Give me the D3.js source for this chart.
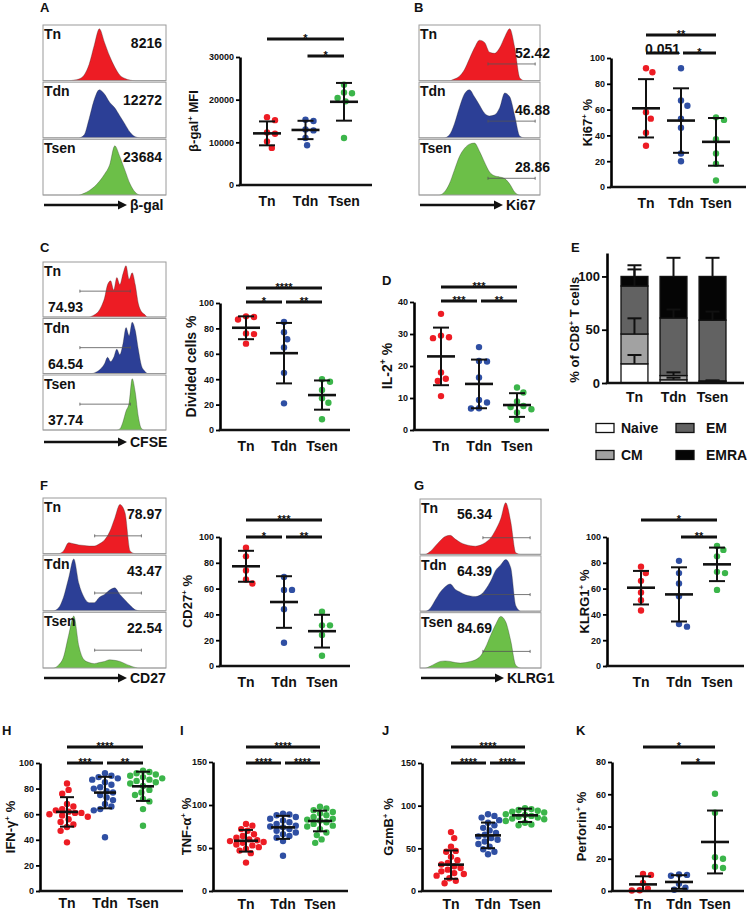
<!DOCTYPE html>
<html>
<head>
<meta charset="utf-8">
<script src="https://cdn.jsdelivr.net/npm/d3@7"></script>
<style>
  body { margin: 0; background: #fff; }
  svg { display: block; }
  text { font-family: "Liberation Sans", Arial, sans-serif; font-weight: bold; fill: #111; }
</style>
</head>
<body>
<div id="fig"></div>
<script>
const groups = ["Tn", "Tdn", "Tsen"]

// ---- A: beta-gal ----
const galHistTn = [0,0,0,0,0,0,.01,.03,.1,.3,.65,.95,.7,.45,.25,.1,.04,.01,0,0,0,0,0,0,0]
const galHistTdn = [0,0,0,0,0,0,0,0,.05,.35,.7,.88,.8,.65,.55,.4,.25,.1,.02,0,0,0,0,0,0]
const galHistTsen = [0,0,0,0,0,0,0,0,.03,.08,.15,.25,.38,.55,.9,.7,.45,.2,.05,0,0,0,0,0,0]
const galMfiLabels = ["8216", "12272", "23684"]
const galTn = [15900, 15200, 12300, 12000, 10200, 8700]
const galTdn = [15300, 15000, 13000, 12800, 11000, 9300]
const galTsen = [23500, 21700, 21500, 20400, 19600, 11000]
const galMean = [12100, 12900, 19500]
const galSd = [2800, 2150, 4420]

// ---- B: Ki67 ----
const ki67HistTn = [0,0,0,0,0,0,0,.03,.08,.2,.4,.6,.74,.7,.52,.5,.6,.8,.95,.6,.05,0,0,0,0]
const ki67HistTdn = [0,0,0,0,0,0,.05,.25,.55,.8,.88,.75,.6,.45,.4,.42,.55,.82,.75,.4,.03,0,0,0,0]
const ki67HistTsen = [0,0,0,0,0,.05,.2,.45,.7,.85,.93,.95,.8,.6,.42,.35,.33,.3,.2,.05,0,0,0,0,0]
const ki67Labels = ["52.42", "46.88", "28.86"]
const ki67Tn = [92, 89, 58, 53, 42, 32]
const ki67Tdn = [92, 67, 63, 53, 46, 26, 20]
const ki67Tsen = [54, 52, 37, 26, 18, 5]
const ki67Mean = [61, 51.5, 35]
const ki67Sd = [22.6, 25, 18.5]

// ---- C: CFSE ----
const cfseHistTn = [0,0,0,0,0,0,0,0,0,0,0,0,0,0,0,0,.02,.05,.1,.2,.35,.6,.67,.5,.73,.6,.8,.95,.7,.82,.6,.25,.1,.05,0,0,0,0,0,0,0]
const cfseHistTdn = [0,0,0,0,0,0,0,0,0,0,0,0,0,0,0,0,0,.02,.05,.1,.18,.3,.22,.3,.45,.35,.55,.85,.7,.95,.8,.45,.15,.05,0,0,0,0,0,0,0]
const cfseHistTsen = [0,0,0,0,0,0,0,0,0,0,0,0,0,0,0,0,0,0,0,0,0,0,0,0,0,.02,.15,.35,.5,.95,.7,.25,.03,0,0,0,0,0,0,0,0]
const cfseLabels = ["74.93", "64.54", "37.74"]
const cfseTn = [89.5, 89, 87, 76, 75.5, 68]
const cfseTdn = [85, 77, 71.5, 65, 45, 21]
const cfseTsen = [40, 38, 31.5, 25, 21.5, 8.5]
const cfseMean = [80.5, 60.5, 27.5]
const cfseSd = [9, 23.8, 11.5]

// ---- D: IL-2 ----
const il2Tn = [36.3, 29.5, 29, 28.7, 18, 16, 15.3, 10.6]
const il2Tdn = [25.9, 21.6, 21.4, 16.4, 9.4, 8.6, 6.8, 6.7]
const il2Tsen = [13.3, 11.7, 8.9, 7.5, 7.2, 6.5, 5.5, 3.2]
const il2Mean = [23, 14.4, 7.8]
const il2Sd = [9, 7.6, 3.7]

// ---- E: subsets ----
const subsetNames = ["Naive", "CM", "EM", "EMRA"]
const naivePct = [18, 3, 1]
const cmPct = [28, 4, 1]
const emPct = [45, 54, 57]
const emraPct = [9, 39, 41]
const naiveSd = [8.3, 2, 0.5]
const cmSd = [14.7, 3, 0.5]
const emSd = [15.6, 8, 8]
const emraSd = [10.5, 17.5, 17.5]

// ---- F: CD27 ----
const cd27HistTn = [0,0,0,0,.05,.2,.18,.16,.15,.14,.14,.18,.25,.4,.65,.9,.75,.05,0,0,0,0,0,0,0]
const cd27HistTdn = [0,0,0,.05,.25,.6,.95,.5,.25,.15,.15,.25,.3,.38,.42,.3,.2,.1,.02,0,0,0,0,0,0]
const cd27HistTsen = [0,0,0,.05,.2,.6,.95,.4,.15,.1,.08,.1,.12,.15,.14,.12,.08,.04,.01,0,0,0,0,0,0]
const cd27Labels = ["78.97", "43.47", "22.54"]
const cd27Tn = [91.7, 85, 74, 67, 64]
const cd27Tdn = [69, 59, 59, 44, 18]
const cd27Tsen = [42, 31.5, 31.5, 24, 8]
const cd27Mean = [77.3, 49.6, 27]
const cd27Sd = [12, 20, 12.7]

// ---- G: KLRG1 ----
const klrgHistTn = [0,0,.05,.15,.25,.33,.35,.28,.22,.18,.16,.15,.17,.22,.3,.45,.65,.95,.6,.03,0,0,0,0,0]
const klrgHistTdn = [0,0,.05,.2,.35,.45,.5,.4,.35,.3,.28,.27,.3,.4,.55,.75,.85,.95,.8,.1,0,0,0,0,0]
const klrgHistTsen = [0,0,.03,.08,.12,.13,.12,.1,.09,.1,.12,.15,.22,.38,.6,.8,.95,.85,.5,.05,0,0,0,0,0]
const klrgLabels = ["56.34", "64.39", "84.69"]
const klrgTn = [77, 72, 66, 57, 51, 43]
const klrgTdn = [81.5, 72, 64, 54, 32.5, 30.5]
const klrgTsen = [93, 90, 85, 73, 72, 59]
const klrgMean = [60.7, 55.5, 78.8]
const klrgSd = [13, 21, 13]

// ---- H: IFN-gamma ----
const ifngTn = [84, 79, 76, 68, 66, 64, 63, 62, 61, 61, 60, 59, 58, 56, 54, 52, 50, 47, 38]
const ifngTdn = [92, 90, 89, 88, 87, 85, 83, 81, 80, 78, 77, 75, 73, 71, 68, 66, 64, 63, 42]
const ifngTsen = [94, 93, 92, 91, 90, 89, 88, 87, 86, 85, 84, 82, 79, 77, 75, 72, 70, 64, 51]
const ifngMean = [61.8, 76.9, 81.8]
const ifngSd = [11.5, 12.3, 11.4]

// ---- I: TNF-alpha ----
const tnfTn = [78, 76, 72, 70, 66, 64, 62, 60, 59, 58, 57, 56, 54, 53, 51, 49, 47, 44, 33]
const tnfTdn = [90, 89, 88, 86, 84, 82, 80, 78, 76, 75, 74, 72, 70, 68, 66, 64, 62, 58, 41]
const tnfTsen = [98, 96, 94, 92, 90, 88, 86, 84, 83, 82, 80, 78, 76, 75, 72, 68, 65, 60, 56]
const tnfMean = [58.4, 74, 81.4]
const tnfSd = [12.6, 13.4, 12]

// ---- J: GzmB ----
const gzmbTn = [69, 62, 52, 47, 46, 40, 36, 33, 31, 29, 27, 25, 23, 21, 20, 18, 15, 12, 9]
const gzmbTdn = [90, 88, 86, 83, 80, 77, 74, 71, 68, 66, 64, 62, 60, 58, 55, 52, 49, 46, 43]
const gzmbTsen = [97, 96, 95, 94, 93, 92, 90, 89, 88, 87, 86, 85, 84, 82, 80, 78, 77]
const gzmbMean = [30.9, 65.2, 88.7]
const gzmbSd = [16.6, 15, 7.8]

// ---- K: Perforin ----
const perfTn = [10.5, 10, 5, 1.5, 0.5, 0.3]
const perfTdn = [10.3, 10, 9.5, 4.5, 2, 0.8]
const perfTsen = [60.3, 48.5, 21, 20, 15, 14.3]
const perfMean = [4.1, 5.6, 30.4]
const perfSd = [5, 4.2, 19.5]


const W = 748, H = 913
const dotColors = ["#ed1c24", "#2f4fa3", "#3bb54a"]
const histColors = ["#ed1c24", "#2c3f96", "#6cbf48"]
const subsetFill = { Naive: "#ffffff", CM: "#a2a2a2", EM: "#626262", EMRA: "#050505" }
const dotR = 3.2

const svg = d3.select("#fig").append("svg")
  .attr("width", W)
  .attr("height", H)

// text with {superscript} parts
function addRich(sel, str, size) {
  const bits = str.split(/(\{[^}]*\})/).filter(s => s.length > 0)
  let raised = false
  bits.forEach(b => {
    const t = sel.append("tspan")
    if (b[0] === "{") {
      t.attr("font-size", size * 0.62).attr("dy", -size * 0.42).text(b.slice(1, -1))
      raised = true
    } else {
      if (raised) { t.attr("dy", size * 0.42); raised = false }
      t.text(b)
    }
  })
}

function letter(txt, x, y) {
  svg.append("text").attr("x", x).attr("y", y).attr("font-size", 13).text(txt)
}

// simple beeswarm so dots don't sit on top of each other
function swarm(ys, r, spread) {
  const minD = 2 * r * spread
  const order = d3.range(ys.length).sort((a, b) => d3.ascending(ys[a], ys[b]))
  const placed = []
  const offs = []
  order.forEach(i => {
    let k = 0, cand = 0
    while (true) {
      cand = k === 0 ? 0 : (k % 2 ? 1 : -1) * Math.ceil(k / 2) * r * 0.5
      if (placed.every(q => Math.hypot(q[0] - cand, q[1] - ys[i]) >= minD)) break
      k++
    }
    offs[i] = cand
    placed.push([cand, ys[i]])
  })
  return offs
}

function dotPanel(p) {
  const g = svg.append("g")
  const y = d3.scaleLinear().domain([0, p.max]).range([p.y0, p.yTop])
  const x = d3.scalePoint().domain(groups).range(p.cats)

  p.values.forEach((vals, gi) => {
    const offs = swarm(vals.map(v => y(v)), dotR, p.spread || 1.15)
    g.append("g").selectAll("circle")
      .data(vals)
      .enter()
      .append("circle")
      .attr("cx", (d, i) => x(groups[gi]) + offs[i])
      .attr("cy", d => y(d))
      .attr("r", dotR)
      .attr("fill", dotColors[gi])
  })

  // mean +/- SD
  const meanW = p.meanW || 28, capW = p.capW || 16
  const eb = g.append("g").attr("stroke", "#111").attr("stroke-width", 2)
  groups.forEach((grp, gi) => {
    const cx = x(grp), m = p.mean[gi], s = p.sd[gi]
    const lo = Math.max(0, m - s), hi = m + s
    eb.append("line").attr("x1", cx).attr("x2", cx).attr("y1", y(lo)).attr("y2", y(hi))
    eb.append("line").attr("x1", cx - capW / 2).attr("x2", cx + capW / 2).attr("y1", y(hi)).attr("y2", y(hi))
    eb.append("line").attr("x1", cx - capW / 2).attr("x2", cx + capW / 2).attr("y1", y(lo)).attr("y2", y(lo))
    eb.append("line").attr("x1", cx - meanW / 2).attr("x2", cx + meanW / 2).attr("y1", y(m)).attr("y2", y(m))
      .attr("stroke-width", 2.6)
  })

  // axes
  const ax = g.append("g")
    .attr("transform", `translate(${p.x0},0)`)
    .call(d3.axisLeft(y).tickValues(p.ticks).tickSize(4).tickSizeOuter(0).tickPadding(2).tickFormat(d3.format("d")))
  ax.select(".domain").attr("stroke-width", 2.6)
  ax.selectAll(".tick line").attr("stroke-width", 1.8)
  ax.selectAll(".tick text").attr("font-size", 9).attr("font-family", null)
  g.append("line")
    .attr("x1", p.x0 - 1.3).attr("x2", p.xEnd)
    .attr("y1", y(0)).attr("y2", y(0))
    .attr("stroke", "#111").attr("stroke-width", 2.6)

  g.selectAll(".xl")
    .data(groups)
    .enter()
    .append("text")
    .attr("x", d => x(d))
    .attr("y", p.y0 + (p.labelDy || 21))
    .attr("text-anchor", "middle")
    .attr("font-size", 14)
    .text(d => d)

  // significance bars
  p.sig.forEach(([a, b, dy, label]) => {
    const yy = p.yTop + dy
    const x1 = x(a) + (a === "Tdn" ? 2 : 0)
    const x2 = x(b) - (b === "Tdn" ? 2 : 0)
    g.append("line")
      .attr("x1", x1).attr("x2", x2).attr("y1", yy).attr("y2", yy)
      .attr("stroke", "#111").attr("stroke-width", 3)
    const isNum = !label.startsWith("*")
    g.append("text")
      .attr("x", (x1 + x2) / 2)
      .attr("y", isNum ? yy + 1 : yy + 2.5)
      .attr("text-anchor", "middle")
      .attr("font-size", isNum ? 14 : 11)
      .text(label)
  })

  const title = g.append("text")
    .attr("transform", `translate(${p.titleX + 5},${(p.yTop + p.y0) / 2}) rotate(-90)`)
    .attr("text-anchor", "middle")
    .attr("font-size", p.titleSize || 13)
  addRich(title, p.title, p.titleSize || 13)
}

function histPanel(p) {
  const g = svg.append("g")
  const gap = 1.5
  const bh = (p.bottom - p.top - 2 * gap) / 3
  p.traces.forEach((tr, k) => {
    const top = p.top + k * (bh + gap), bot = top + bh
    const hx = d3.scaleLinear().domain([0, tr.length - 1]).range([p.x, p.x + p.w])
    const hy = d3.scaleLinear().domain([0, 1]).range([bot, top + 1])
    const area = d3.area()
      .x((d, i) => hx(i))
      .y0(bot)
      .y1(d => hy(d))
      .curve(d3.curveMonotoneX)
    g.append("path").datum(tr).attr("d", area).attr("fill", histColors[k])
    g.append("path").datum(tr)
      .attr("d", d3.line().x((d, i) => hx(i)).y(d => hy(d)).curve(d3.curveMonotoneX))
      .attr("fill", "none").attr("stroke", "#222").attr("stroke-width", 0.5).attr("opacity", 0.6)
    g.append("rect")
      .attr("x", p.x).attr("y", top).attr("width", p.w).attr("height", bh)
      .attr("fill", "none").attr("stroke", "#9a9a9a").attr("stroke-width", 1)

    if (p.gate) {
      const gx1 = p.x + p.w * p.gate[0], gx2 = p.x + p.w * p.gate[1], gy = top + bh * p.gate[2]
      const gg = g.append("g").attr("stroke", "#555").attr("stroke-width", 0.8)
      gg.append("line").attr("x1", gx1).attr("x2", gx2).attr("y1", gy).attr("y2", gy)
      gg.append("line").attr("x1", gx1).attr("x2", gx1).attr("y1", gy - 1.5).attr("y2", gy + 1.5)
      gg.append("line").attr("x1", gx2).attr("x2", gx2).attr("y1", gy - 1.5).attr("y2", gy + 1.5)
    }

    g.append("text").attr("x", p.x + 1).attr("y", top + 14).attr("font-size", 14).text(groups[k])

    const vt = g.append("text").attr("font-size", 14).text(p.labels[k])
    if (p.valueAt === "bottomLeft") {
      vt.attr("x", p.x + 5).attr("y", bot - 5)
    } else if (p.valueAt === "left") {
      vt.attr("x", p.valueX).attr("y", top + p.valueDy)
    } else {
      vt.attr("x", p.valueX).attr("y", top + p.valueDy).attr("text-anchor", "end")
    }
  })

  // axis arrow
  const ay = p.arrowY, ax0 = p.x + 1, tip = p.x + 84
  g.append("line").attr("x1", ax0).attr("x2", tip - 6).attr("y1", ay).attr("y2", ay)
    .attr("stroke", "#111").attr("stroke-width", 2.6)
  g.append("path")
    .attr("d", `M${tip},${ay}L${tip - 9},${ay - 4.5}L${tip - 9},${ay + 4.5}Z`)
    .attr("fill", "#111")
  g.append("text").attr("x", tip + 3).attr("y", ay + 5).attr("font-size", 14).text(p.marker)
}

// ---------- panels ----------
letter("A", 40, 12)
histPanel({ x: 43, w: 123, top: 25, bottom: 195, traces: [galHistTn, galHistTdn, galHistTsen],
  labels: galMfiLabels, valueX: 162, valueDy: 23, arrowY: 205, marker: "β-gal" })
dotPanel({ x0: 240, xEnd: 372, yTop: 57, y0: 185, cats: [267, 344], max: 30000,
  ticks: [0, 10000, 20000, 30000], values: [galTn, galTdn, galTsen], mean: galMean, sd: galSd,
  title: "β-gal{+} MFI", titleX: 193,
  sig: [["Tn", "Tsen", -18, "*"], ["Tdn", "Tsen", -1, "*"]] })

letter("B", 414, 12)
histPanel({ x: 419, w: 121, top: 25, bottom: 195, traces: [ki67HistTn, ki67HistTdn, ki67HistTsen],
  labels: ki67Labels, valueX: 550, valueDy: 33, gate: [0.57, 0.96, 0.7], arrowY: 205, marker: "Ki67" })
dotPanel({ x0: 611, xEnd: 746, yTop: 58, y0: 187, cats: [646, 716], max: 100,
  ticks: [0, 20, 40, 60, 80, 100], values: [ki67Tn, ki67Tdn, ki67Tsen], mean: ki67Mean, sd: ki67Sd,
  title: "Ki67{+} %", titleX: 587,
  sig: [["Tn", "Tsen", -23, "**"], ["Tn", "Tdn", -5, "0.051"], ["Tdn", "Tsen", -5, "*"]] })

letter("C", 40, 252)
histPanel({ x: 43, w: 123, top: 262, bottom: 430, traces: [cfseHistTn, cfseHistTdn, cfseHistTsen],
  labels: cfseLabels, valueAt: "bottomLeft", gate: [0.3, 0.71, 0.53], arrowY: 442, marker: "CFSE" })
dotPanel({ x0: 220, xEnd: 350, yTop: 303, y0: 430, cats: [246, 322], max: 100,
  ticks: [0, 20, 40, 60, 80, 100], values: [cfseTn, cfseTdn, cfseTsen], mean: cfseMean, sd: cfseSd,
  title: "Divided cells %", titleX: 191, titleSize: 14,
  sig: [["Tn", "Tsen", -15, "****"], ["Tn", "Tdn", -1, "*"], ["Tdn", "Tsen", -1, "**"]] })

letter("D", 382, 285)
dotPanel({ x0: 414, xEnd: 549, yTop: 302, y0: 430, cats: [441, 517], max: 40,
  ticks: [0, 10, 20, 30, 40], values: [il2Tn, il2Tdn, il2Tsen], mean: il2Mean, sd: il2Sd,
  title: "IL-2{+} %", titleX: 387, titleSize: 14,
  sig: [["Tn", "Tsen", -15, "***"], ["Tn", "Tdn", -1, "***"], ["Tdn", "Tsen", -1, "**"]] })

// E: stacked subsets
letter("E", 571, 252)
{
  const g = svg.append("g")
  const eY = d3.scaleLinear().domain([0, 122]).range([383, 253])
  const eX = d3.scaleBand().domain(groups).range([615, 732]).paddingInner(0.31).paddingOuter(0.154)
  const rows = groups.map((grp, i) => ({ group: grp, Naive: naivePct[i], CM: cmPct[i], EM: emPct[i], EMRA: emraPct[i] }))
  const stacked = d3.stack().keys(subsetNames)(rows)
  const sdBy = { Naive: naiveSd, CM: cmSd, EM: emSd, EMRA: emraSd }

  stacked.forEach(layer => {
    g.append("g").selectAll("rect")
      .data(layer)
      .enter()
      .append("rect")
      .attr("x", d => eX(d.data.group))
      .attr("y", d => eY(d[1]))
      .attr("width", eX.bandwidth())
      .attr("height", d => eY(d[0]) - eY(d[1]))
      .attr("fill", subsetFill[layer.key])
      .attr("stroke", "#111")
      .attr("stroke-width", 1.3)
  })
  const eb = g.append("g").attr("stroke", "#111").attr("stroke-width", 2)
  stacked.forEach(layer => {
    layer.forEach((d, i) => {
      const cx = eX(d.data.group) + eX.bandwidth() / 2
      const top = d[1], hi = top + sdBy[layer.key][i]
      eb.append("line").attr("x1", cx).attr("x2", cx).attr("y1", eY(top)).attr("y2", eY(hi))
      eb.append("line").attr("x1", cx - 7).attr("x2", cx + 7).attr("y1", eY(hi)).attr("y2", eY(hi))
    })
  })

  const ax = g.append("g").attr("transform", "translate(607,0)")
    .call(d3.axisLeft(eY).tickValues([0, 50, 100]).tickSize(5).tickSizeOuter(0).tickPadding(2))
  ax.select(".domain").attr("stroke-width", 2.6)
  ax.selectAll(".tick line").attr("stroke-width", 1.8)
  ax.selectAll(".tick text").attr("font-size", 13).attr("font-family", null)
  g.append("line").attr("x1", 605.7).attr("x2", 744).attr("y1", eY(0)).attr("y2", eY(0))
    .attr("stroke", "#111").attr("stroke-width", 2.6)
  g.selectAll(".xl").data(groups).enter().append("text")
    .attr("x", d => eX(d) + eX.bandwidth() / 2)
    .attr("y", 402)
    .attr("text-anchor", "middle")
    .attr("font-size", 14)
    .text(d => d)
  const t = g.append("text")
    .attr("transform", `translate(${574 + 5},${(eY(0) + eY(100)) / 2}) rotate(-90)`)
    .attr("text-anchor", "middle")
    .attr("font-size", 13)
  addRich(t, "% of CD8{+} T cells", 13)

  // legend: Naive, EM / CM, EMRA
  const legPos = { Naive: [596, 428], EM: [676, 428], CM: [596, 455], EMRA: [676, 455] }
  subsetNames.forEach(k => {
    const [lx, ly] = legPos[k]
    g.append("rect").attr("x", lx).attr("y", ly - 4.5).attr("width", 18).attr("height", 9)
      .attr("fill", subsetFill[k]).attr("stroke", "#111").attr("stroke-width", 1.3)
    g.append("text").attr("x", lx + (k === "Naive" || k === "CM" ? 25 : 30)).attr("y", ly + 5)
      .attr("font-size", 14).text(k)
  })
}

letter("F", 40, 490)
histPanel({ x: 43, w: 123, top: 498, bottom: 668, traces: [cd27HistTn, cd27HistTdn, cd27HistTsen],
  labels: cd27Labels, valueX: 162, valueDy: 21, gate: [0.42, 0.8, 0.68], arrowY: 678, marker: "CD27" })
dotPanel({ x0: 220, xEnd: 350, yTop: 537, y0: 666, cats: [246, 322], max: 100,
  ticks: [0, 20, 40, 60, 80, 100], values: [cd27Tn, cd27Tdn, cd27Tsen], mean: cd27Mean, sd: cd27Sd,
  title: "CD27{+} %", titleX: 187,
  sig: [["Tn", "Tsen", -17, "***"], ["Tn", "Tdn", 0, "*"], ["Tdn", "Tsen", 0, "**"]] })

letter("G", 414, 490)
histPanel({ x: 420, w: 121, top: 499, bottom: 668, traces: [klrgHistTn, klrgHistTdn, klrgHistTsen],
  labels: klrgLabels, valueAt: "left", valueX: 457, valueDy: 20, gate: [0.52, 0.91, 0.7], arrowY: 678, marker: "KLRG1" })
dotPanel({ x0: 607, xEnd: 744, yTop: 537, y0: 666, cats: [641, 717], max: 100,
  ticks: [0, 20, 40, 60, 80, 100], values: [klrgTn, klrgTdn, klrgTsen], mean: klrgMean, sd: klrgSd,
  title: "KLRG1{+} %", titleX: 584,
  sig: [["Tn", "Tsen", -17, "*"], ["Tdn", "Tsen", 0, "**"]] })

letter("H", 2, 735)
dotPanel({ x0: 40, xEnd: 183, yTop: 763, y0: 891, cats: [67, 143], max: 100,
  ticks: [0, 20, 40, 60, 80, 100], values: [ifngTn, ifngTdn, ifngTsen], mean: ifngMean, sd: ifngSd,
  title: "IFN-γ{+} %", titleX: 10, titleSize: 13, labelDy: 17, meanW: 22, capW: 14, spread: 1.0,
  sig: [["Tn", "Tsen", -16, "****"], ["Tn", "Tdn", 0, "***"], ["Tdn", "Tsen", 0, "**"]] })

letter("I", 180, 735)
dotPanel({ x0: 213, xEnd: 348, yTop: 762, y0: 891, cats: [246, 320], max: 150,
  ticks: [0, 50, 100, 150], values: [tnfTn, tnfTdn, tnfTsen], mean: tnfMean, sd: tnfSd,
  title: "TNF-α{+} %", titleX: 186, labelDy: 18, meanW: 24, capW: 14, spread: 1.0,
  sig: [["Tn", "Tsen", -15, "****"], ["Tn", "Tdn", 1, "****"], ["Tdn", "Tsen", 1, "****"]] })

letter("J", 382, 735)
dotPanel({ x0: 422, xEnd: 552, yTop: 763, y0: 891, cats: [451, 525], max: 150,
  ticks: [0, 50, 100, 150], values: [gzmbTn, gzmbTdn, gzmbTsen], mean: gzmbMean, sd: gzmbSd,
  title: "GzmB{+} %", titleX: 388, labelDy: 18, meanW: 26, capW: 14, spread: 1.0,
  sig: [["Tn", "Tsen", -16, "****"], ["Tn", "Tdn", 0, "****"], ["Tdn", "Tsen", 0, "****"]] })

letter("K", 576, 735)
dotPanel({ x0: 612, xEnd: 744, yTop: 762, y0: 891, cats: [643, 715], max: 80,
  ticks: [0, 20, 40, 60, 80], values: [perfTn, perfTdn, perfTsen], mean: perfMean, sd: perfSd,
  title: "Perforin{+} %", titleX: 581, labelDy: 18,
  sig: [["Tn", "Tsen", -15, "*"], ["Tdn", "Tsen", 1, "*"]] })
</script>
</body>
</html>
